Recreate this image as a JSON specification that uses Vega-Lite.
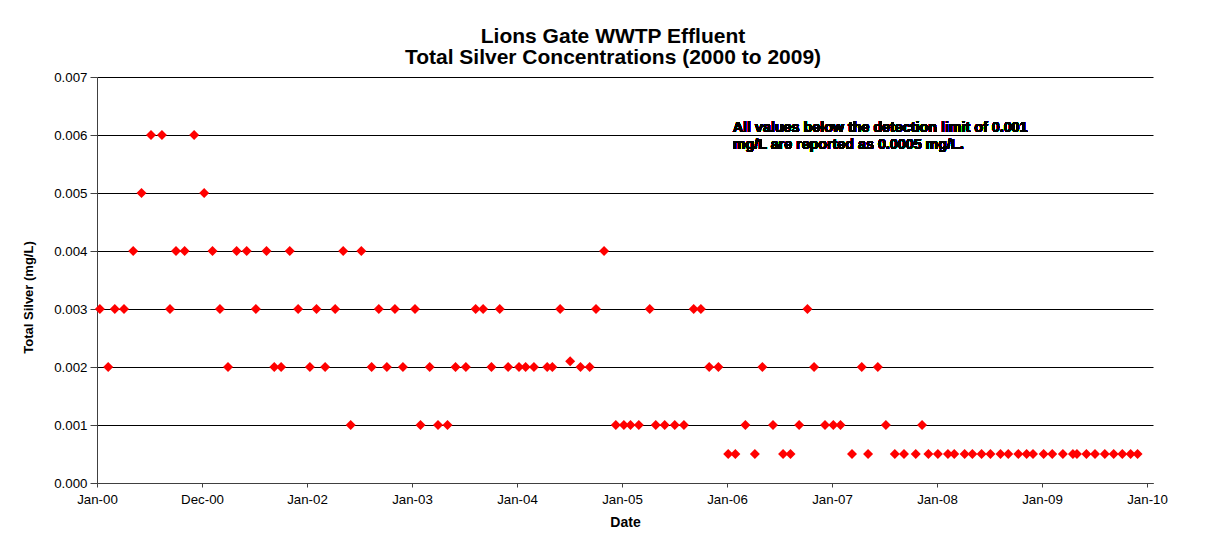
{
  "$schema": "https://vega.github.io/schema/vega-lite/v6.json",
  "autosize": {"type": "none"},
  "width": 1056,
  "height": 406,
  "padding": {"left": 97, "top": 77, "right": 64, "bottom": 76},
  "background": "white",
  "title": {
    "text": ["Lions Gate WWTP Effluent", "Total Silver Concentrations (2000 to 2009)"],
    "font": "Liberation Sans",
    "fontSize": 21,
    "fontWeight": "bold",
    "color": "black",
    "anchor": "middle",
    "frame": "group",
    "dx": -12,
    "lineHeight": 21,
    "offset": 2
  },
  "config": {
    "view": {"stroke": null},
    "font": "Liberation Sans"
  },
  "data": {
    "values": [
      {"date": "2000-01-11", "silver": 0.003},
      {"date": "2000-03-03", "silver": 0.003},
      {"date": "2000-04-04", "silver": 0.003},
      {"date": "2000-09-11", "silver": 0.003},
      {"date": "2001-03-04", "silver": 0.003},
      {"date": "2001-07-07", "silver": 0.003},
      {"date": "2001-12-01", "silver": 0.003},
      {"date": "2002-02-03", "silver": 0.003},
      {"date": "2002-04-09", "silver": 0.003},
      {"date": "2002-09-08", "silver": 0.003},
      {"date": "2002-11-03", "silver": 0.003},
      {"date": "2003-01-12", "silver": 0.003},
      {"date": "2003-08-11", "silver": 0.003},
      {"date": "2003-09-06", "silver": 0.003},
      {"date": "2003-11-03", "silver": 0.003},
      {"date": "2004-05-31", "silver": 0.003},
      {"date": "2004-10-03", "silver": 0.003},
      {"date": "2005-04-08", "silver": 0.003},
      {"date": "2005-09-08", "silver": 0.003},
      {"date": "2005-10-03", "silver": 0.003},
      {"date": "2006-10-09", "silver": 0.003},
      {"date": "2000-02-09", "silver": 0.002},
      {"date": "2001-04-01", "silver": 0.002},
      {"date": "2001-09-09", "silver": 0.002},
      {"date": "2001-10-03", "silver": 0.002},
      {"date": "2002-01-11", "silver": 0.002},
      {"date": "2002-03-05", "silver": 0.002},
      {"date": "2002-08-14", "silver": 0.002},
      {"date": "2002-10-06", "silver": 0.002},
      {"date": "2002-12-01", "silver": 0.002},
      {"date": "2003-03-04", "silver": 0.002},
      {"date": "2003-06-02", "silver": 0.002},
      {"date": "2003-07-08", "silver": 0.002},
      {"date": "2003-10-05", "silver": 0.002},
      {"date": "2003-12-02", "silver": 0.002},
      {"date": "2004-01-09", "silver": 0.002},
      {"date": "2004-02-01", "silver": 0.002},
      {"date": "2004-03-01", "silver": 0.002},
      {"date": "2004-04-16", "silver": 0.002},
      {"date": "2004-05-04", "silver": 0.002},
      {"date": "2004-07-05", "silver": 0.0021},
      {"date": "2004-08-10", "silver": 0.002},
      {"date": "2004-09-11", "silver": 0.002},
      {"date": "2005-11-01", "silver": 0.002},
      {"date": "2005-12-03", "silver": 0.002},
      {"date": "2006-05-05", "silver": 0.002},
      {"date": "2006-11-01", "silver": 0.002},
      {"date": "2007-04-16", "silver": 0.002},
      {"date": "2007-06-11", "silver": 0.002},
      {"date": "2000-05-06", "silver": 0.004},
      {"date": "2000-10-02", "silver": 0.004},
      {"date": "2000-11-01", "silver": 0.004},
      {"date": "2001-02-06", "silver": 0.004},
      {"date": "2001-05-01", "silver": 0.004},
      {"date": "2001-06-05", "silver": 0.004},
      {"date": "2001-08-13", "silver": 0.004},
      {"date": "2001-11-02", "silver": 0.004},
      {"date": "2002-05-07", "silver": 0.004},
      {"date": "2002-07-09", "silver": 0.004},
      {"date": "2004-10-31", "silver": 0.004},
      {"date": "2000-06-04", "silver": 0.005},
      {"date": "2001-01-08", "silver": 0.005},
      {"date": "2000-07-07", "silver": 0.006},
      {"date": "2000-08-14", "silver": 0.006},
      {"date": "2000-12-04", "silver": 0.006},
      {"date": "2002-06-02", "silver": 0.001},
      {"date": "2003-01-31", "silver": 0.001},
      {"date": "2003-04-02", "silver": 0.001},
      {"date": "2003-05-05", "silver": 0.001},
      {"date": "2004-12-11", "silver": 0.001},
      {"date": "2005-01-08", "silver": 0.001},
      {"date": "2005-01-31", "silver": 0.001},
      {"date": "2005-03-01", "silver": 0.001},
      {"date": "2005-04-29", "silver": 0.001},
      {"date": "2005-05-30", "silver": 0.001},
      {"date": "2005-07-04", "silver": 0.001},
      {"date": "2005-08-05", "silver": 0.001},
      {"date": "2006-03-07", "silver": 0.001},
      {"date": "2006-06-11", "silver": 0.001},
      {"date": "2006-09-10", "silver": 0.001},
      {"date": "2006-12-09", "silver": 0.001},
      {"date": "2007-01-07", "silver": 0.001},
      {"date": "2007-02-01", "silver": 0.001},
      {"date": "2007-07-09", "silver": 0.001},
      {"date": "2007-11-12", "silver": 0.001},
      {"date": "2006-01-06", "silver": 0.0005},
      {"date": "2006-01-31", "silver": 0.0005},
      {"date": "2006-04-09", "silver": 0.0005},
      {"date": "2006-07-16", "silver": 0.0005},
      {"date": "2006-08-11", "silver": 0.0005},
      {"date": "2007-03-13", "silver": 0.0005},
      {"date": "2007-05-08", "silver": 0.0005},
      {"date": "2007-08-09", "silver": 0.0005},
      {"date": "2007-09-10", "silver": 0.0005},
      {"date": "2007-10-21", "silver": 0.0005},
      {"date": "2007-12-04", "silver": 0.0005},
      {"date": "2008-01-06", "silver": 0.0005},
      {"date": "2008-02-10", "silver": 0.0005},
      {"date": "2008-03-03", "silver": 0.0005},
      {"date": "2008-04-08", "silver": 0.0005},
      {"date": "2008-05-05", "silver": 0.0005},
      {"date": "2008-06-06", "silver": 0.0005},
      {"date": "2008-07-07", "silver": 0.0005},
      {"date": "2008-08-11", "silver": 0.0005},
      {"date": "2008-09-07", "silver": 0.0005},
      {"date": "2008-10-12", "silver": 0.0005},
      {"date": "2008-11-10", "silver": 0.0005},
      {"date": "2008-12-02", "silver": 0.0005},
      {"date": "2009-01-08", "silver": 0.0005},
      {"date": "2009-02-07", "silver": 0.0005},
      {"date": "2009-03-16", "silver": 0.0005},
      {"date": "2009-04-20", "silver": 0.0005},
      {"date": "2009-05-04", "silver": 0.0005},
      {"date": "2009-06-06", "silver": 0.0005},
      {"date": "2009-07-06", "silver": 0.0005},
      {"date": "2009-08-09", "silver": 0.0005},
      {"date": "2009-09-09", "silver": 0.0005},
      {"date": "2009-10-09", "silver": 0.0005},
      {"date": "2009-11-07", "silver": 0.0005},
      {"date": "2009-12-01", "silver": 0.0005}
    ]
  },
  "layer": [
    {
      "mark": {"type": "point", "shape": "diamond", "filled": true, "size": 100, "fill": "#FF0000", "opacity": 1, "strokeWidth": 0},
      "encoding": {
        "x": {
          "field": "date",
          "type": "temporal",
          "title": "Date",
          "scale": {
            "type": "utc",
            "domain": [
              {"year": 2000, "month": 1, "date": 1, "utc": true},
              {"year": 2010, "month": 1, "date": 23, "hours": 19, "utc": true}
            ]
          },
          "axis": {
            "values": [
              {"year": 2000, "month": 1, "date": 1, "utc": true},
              {"year": 2000, "month": 12, "date": 31, "hours": 12, "utc": true},
              {"year": 2002, "month": 1, "date": 1, "utc": true},
              {"year": 2003, "month": 1, "date": 1, "hours": 12, "utc": true},
              {"year": 2004, "month": 1, "date": 2, "utc": true},
              {"year": 2005, "month": 1, "date": 1, "hours": 12, "utc": true},
              {"year": 2006, "month": 1, "date": 2, "utc": true},
              {"year": 2007, "month": 1, "date": 2, "hours": 12, "utc": true},
              {"year": 2008, "month": 1, "date": 3, "utc": true},
              {"year": 2009, "month": 1, "date": 2, "hours": 12, "utc": true},
              {"year": 2010, "month": 1, "date": 3, "utc": true}
            ],
            "labelExpr": "utcFormat(datum.value, '%b-%y')",
            "grid": false,
            "domainColor": "#404040",
            "domainWidth": 1,
            "tickColor": "#404040",
            "tickSize": 4,
            "labelFont": "Liberation Sans",
            "labelFontSize": 13.3,
            "labelColor": "black",
            "labelPadding": 5,
            "labelFlush": false,
            "labelOverlap": false,
            "titleFont": "Liberation Sans",
            "titleFontSize": 14,
            "titleFontWeight": "bold",
            "titleColor": "black",
            "titlePadding": 10
          }
        },
        "y": {
          "field": "silver",
          "type": "quantitative",
          "title": "Total Silver  (mg/L)",
          "scale": {"domain": [0, 0.007], "nice": false, "zero": true},
          "axis": {
            "values": [0, 0.001, 0.002, 0.003, 0.004, 0.005, 0.006, 0.007],
            "format": ".3f",
            "grid": true,
            "gridColor": "black",
            "gridWidth": 1,
            "gridOpacity": 1,
            "domainColor": "#404040",
            "domainWidth": 1,
            "tickColor": "#404040",
            "tickSize": 7,
            "labelFont": "Liberation Sans",
            "labelFontSize": 13.3,
            "labelColor": "black",
            "labelPadding": 3,
            "labelFlush": false,
            "titleFont": "Liberation Sans",
            "titleFontSize": 13,
            "titleFontWeight": "bold",
            "titleColor": "black",
            "titlePadding": 18,
            "titleY": 220
          }
        }
      }
    },
    {
      "mark": {
        "type": "text",
        "align": "left",
        "baseline": "alphabetic",
        "font": "Liberation Sans",
        "fontSize": 14.3,
        "fontWeight": "bold",
        "fill": "black",
        "strokeWidth": 0,
        "lineHeight": 17
      },
      "encoding": {
        "x": {"datum": {"year": 2006, "month": 1, "date": 22, "utc": true}, "type": "temporal"},
        "y": {"datum": 0.00606, "type": "quantitative"},
        "text": {"value": ["All values below the detection limit of 0.001", "mg/L are reported as 0.0005 mg/L."]}
      }
    }
  ]
}
